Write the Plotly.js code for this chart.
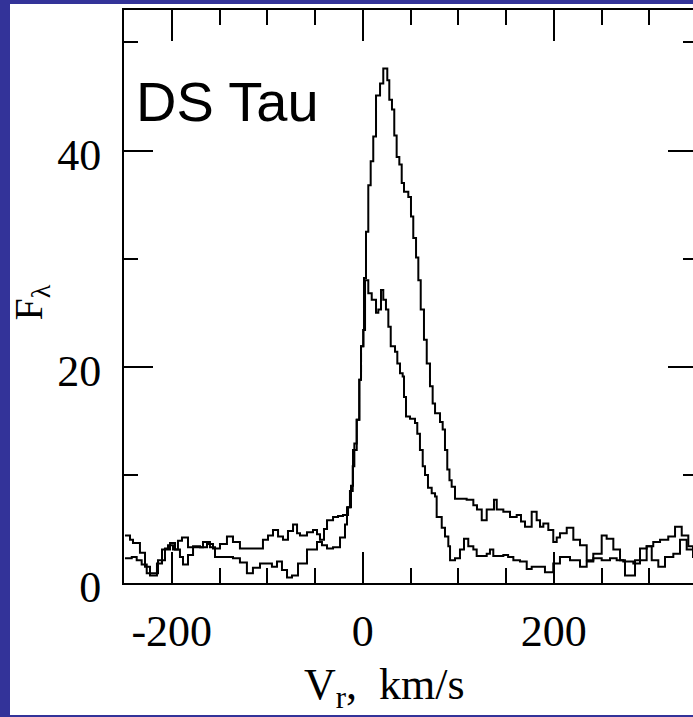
<!DOCTYPE html>
<html>
<head>
<meta charset="utf-8">
<script src="https://cdn.plot.ly/plotly-3.0.1.min.js"></script>
<style>
html,body{margin:0;padding:0;overflow:hidden;background:#333399;width:693px;height:717px;}
#plot{position:absolute;left:10px;top:4px;width:700px;height:711px;background:#fff;overflow:hidden;}
</style>
</head>
<body>
<div id="plot"></div>
<script>
// Curve A: the tall, broad profile (peak ~47.6)
const velA = [-249.0,-241.9,-236.7,-231.5,-226.2,-219.6,-214.4,-207.1,-201.8,-196.6,-191.4,-188.2,-183.0,-177.7,-170.4,-163.1,-156.8,-149.5,-142.2,-135.9,-128.6,-118.1,-110.8,-104.5,-99.2,-94.0,-88.7,-83.5,-78.3,-73.0,-68.8,-65.7,-58.4,-52.1,-47.9,-44.8,-40.6,-37.4,-31.1,-25.9,-20.7,-15.4,-12.3,-10.2,-6.3,-3.6,-1.8,0.6,1.3,3.4,5.8,8.3,11.0,13.9,18.1,21.5,25.7,27.8,30.6,33.0,35.5,38.3,40.8,43.2,47.7,50.5,52.9,55.8,58.2,60.7,64.1,67.0,70.4,73.2,75.7,80.9,83.7,86.1,88.5,90.8,93.1,96.6,108.8,115.8,119.6,124.6,129.8,137.4,140.3,147.2,154.2,161.2,165.7,169.9,176.9,182.1,185.6,189.1,194.3,199.5,203.1,206.5,213.6,220.5,227.5,234.5,241.4,250.2,255.4,262.4,269.4,274.6,281.6,285.1,290.3,297.3,304.2,311.3,319.9,327.0,334.0,340.9,345.8,350.0];
const fluxA = [2.3,2.4,2.1,1.7,0.9,0.9,2.1,3.1,3.7,3.1,2.4,1.7,2.6,3.4,3.3,3.6,3.2,3.6,4.3,3.8,3.2,3.2,3.2,4.0,4.4,4.9,4.3,4.0,4.8,5.4,4.6,4.4,4.7,4.9,4.5,4.0,5.0,5.8,6.1,6.2,6.3,7.0,9.0,12.3,15.1,18.8,21.9,23.4,28.2,32.5,36.8,39.0,41.3,45.1,46.2,47.6,46.5,44.7,43.8,41.4,39.4,38.7,37.0,36.2,35.7,33.9,31.9,30.1,28.0,25.3,22.5,20.3,18.2,16.6,15.7,14.9,14.2,12.3,10.5,9.5,8.9,7.8,7.7,7.2,6.8,5.8,6.8,7.7,6.8,6.6,6.1,6.3,5.7,5.2,6.6,5.8,5.2,5.5,4.9,3.8,4.2,4.6,5.1,4.0,3.5,2.1,2.7,4.4,4.1,3.1,2.1,0.7,0.7,2.1,3.2,3.4,3.8,4.0,4.3,5.2,4.4,3.4,2.7,2.5];

// Curve B: the narrower profile (peak ~27)
const velB = [-249.0,-243.7,-240.6,-236.7,-233.3,-228.0,-222.8,-218.6,-215.5,-210.2,-207.1,-203.9,-198.7,-193.5,-189.3,-183.0,-173.6,-167.3,-160.0,-154.7,-146.4,-135.9,-128.6,-121.3,-115.0,-107.6,-100.3,-95.1,-89.8,-84.6,-79.3,-74.1,-67.8,-58.4,-47.9,-42.7,-37.4,-31.1,-23.8,-18.6,-16.5,-13.4,-10.5,-8.8,-6.3,-3.6,-1.8,0.6,2.4,5.8,9.4,13.9,16.3,19.1,21.5,24.3,26.8,29.3,33.8,36.2,39.0,41.8,43.2,45.3,49.5,54.7,57.1,59.9,62.8,65.2,68.3,72.2,75.7,77.4,82.7,86.1,89.6,91.4,96.6,101.8,106.0,110.5,115.8,119.3,129.8,133.2,136.7,147.2,152.2,157.7,164.7,171.7,176.9,185.6,190.8,199.5,206.5,217.0,227.5,234.5,241.4,250.2,258.9,265.9,272.8,283.3,290.3,297.3,302.6,309.5,316.5,325.2,332.2,339.2,345.8,350.0];
const fluxB = [4.4,4.0,3.7,3.7,2.8,1.5,0.7,0.7,1.8,3.1,3.2,3.5,3.1,3.9,4.2,3.3,3.3,3.8,3.3,2.4,2.4,2.3,1.9,0.9,1.4,1.8,1.8,1.5,2.0,1.2,0.5,0.7,1.8,3.1,3.8,3.5,3.2,3.3,4.2,5.4,7.0,8.5,10.8,12.9,15.1,18.8,21.9,23.4,28.0,26.8,26.2,25.0,25.3,27.1,26.2,25.3,23.7,21.9,21.4,20.3,19.4,19.1,17.2,15.4,15.2,14.8,13.8,12.3,10.8,10.0,8.8,8.3,8.0,6.1,5.1,4.3,3.4,2.1,2.3,3.1,4.1,3.4,3.1,2.5,2.7,3.1,2.5,2.6,2.4,2.1,2.0,1.3,1.5,1.5,1.0,1.8,2.4,2.1,1.5,2.0,2.3,2.1,2.3,2.1,2.0,1.8,2.1,3.4,2.1,1.5,2.4,2.7,4.0,3.1,2.4,2.2];

const xTickVals = [-200, 0, 200];
const xTickText = ['-200', '0', '200'];
const yTickVals = [0, 20, 40];
const yTickText = ['0', '20', '40'];
const starLabel = 'DS Tau';
const xTitle = 'V<sub>r</sub>,\u00a0 km/s';
const yTitle = 'F<sub>λ</sub>';

const lineStyle = {color: '#000', width: 2, shape: 'hv'};
const traces = [
  {x: velA, y: fluxA, type: 'scatter', mode: 'lines', line: lineStyle, hoverinfo: 'skip'},
  {x: velB, y: fluxB, type: 'scatter', mode: 'lines', line: lineStyle, hoverinfo: 'skip'}
];

const serif = '"Liberation Serif", "DejaVu Serif", serif';
const tickFont = {family: serif, size: 44, color: '#000'};

const layout = {
  width: 700, height: 711,
  margin: {l: 114, r: 13, t: 6, b: 132},
  paper_bgcolor: '#fff', plot_bgcolor: '#fff',
  showlegend: false,
  xaxis: {
    range: [-250, 350], showgrid: false, zeroline: false,
    showline: true, linecolor: '#000', linewidth: 2, mirror: 'ticks',
    ticks: 'inside', ticklen: 31, tickwidth: 2, tickcolor: '#000',
    tickmode: 'array', tickvals: xTickVals, ticktext: xTickText,
    tickfont: tickFont, ticklabelstandoff: 8,
    minor: {dtick: 50, tick0: 0, ticks: 'inside', ticklen: 15, tickwidth: 2, tickcolor: '#000', showgrid: false}
  },
  yaxis: {
    range: [0, 53], showgrid: false, zeroline: false,
    showline: true, linecolor: '#000', linewidth: 2, mirror: 'ticks',
    ticks: 'inside', ticklen: 29, tickwidth: 2, tickcolor: '#000',
    tickmode: 'array', tickvals: yTickVals, ticktext: yTickText,
    tickfont: tickFont, ticklabelstandoff: 12, ticklabelshift: 4,
    minor: {dtick: 10, tick0: 0, ticks: 'inside', ticklen: 14, tickwidth: 2, tickcolor: '#000', showgrid: false}
  },
  annotations: [
    {text: starLabel, xref: 'paper', yref: 'paper', x: 0.018, y: 0.841, xanchor: 'left', yanchor: 'middle',
     showarrow: false, font: {family: '"Liberation Sans", Arial, sans-serif', size: 56, color: '#000'}},
    {text: xTitle, xref: 'paper', yref: 'paper', x: 0.31, y: -0.183, xanchor: 'left', yanchor: 'middle',
     showarrow: false, font: {family: serif, size: 44, color: '#000'}},
    {text: yTitle, xref: 'paper', yref: 'paper', x: -0.163, y: 0.489, xanchor: 'center', yanchor: 'middle',
     textangle: -90, showarrow: false, font: {family: serif, size: 40, color: '#000'}}
  ]
};

Plotly.newPlot('plot', traces, layout, {displayModeBar: false, staticPlot: true});
</script>
</body>
</html>
